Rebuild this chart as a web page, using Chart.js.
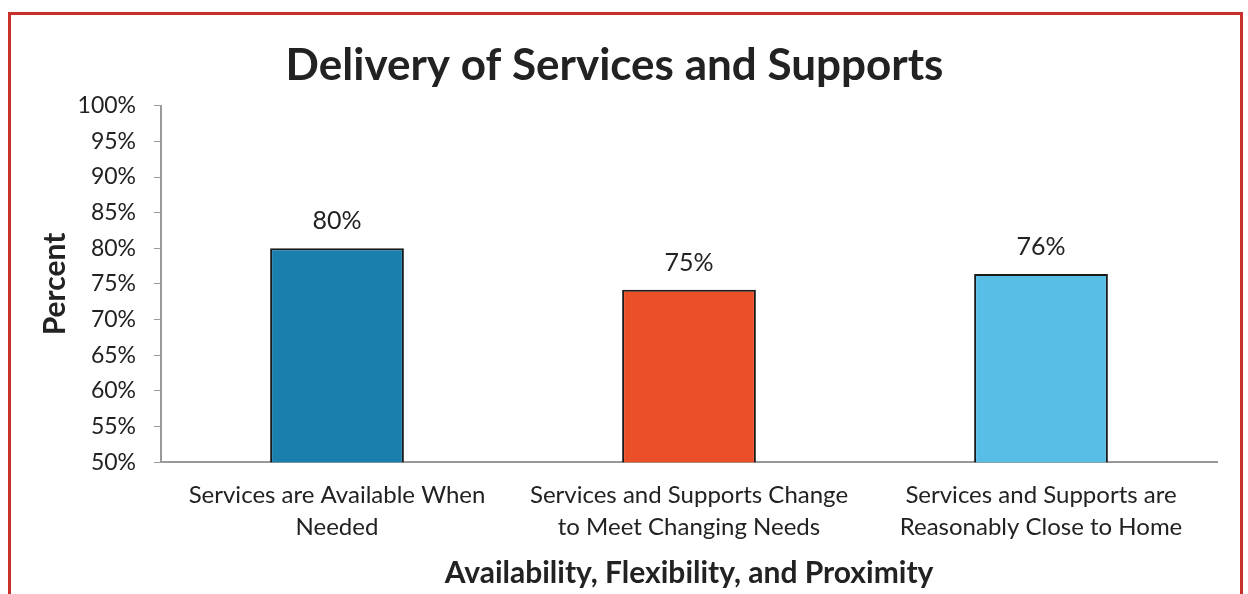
<!DOCTYPE html>
<html>
<head>
<meta charset="utf-8">
<script src="https://cdn.jsdelivr.net/npm/chart.js@4/dist/chart.umd.min.js"></script>
<style>
  html, body { margin: 0; padding: 0; background: #fff; }
  #wrap { position: relative; width: 1248px; height: 594px; }
  #frame { position: absolute; left: 8px; top: 12px; width: 1229px; height: 600px;
           border: 3px solid #c9302c; pointer-events: none; }
</style>
</head>
<body>
<div id="wrap">
  <canvas id="delivery_chart" width="1248" height="594"></canvas>
  <div id="frame"></div>
</div>
<script>
var categories = [
    ["Services are Available When", "Needed"],
    ["Services and Supports Change", "to Meet Changing Needs"],
    ["Services and Supports are", "Reasonably Close to Home"]
];
var percentValues = [80, 74.2, 76.4];
var valueLabels = ["80%", "75%", "76%"];
var barColors = ["#1b7fae", "#ea4f28", "#58bee6"];
var yTicks = [50, 55, 60, 65, 70, 75, 80, 85, 90, 95, 100];

var fontName = "Lato, 'Open Sans', sans-serif";

// writes the percent above each bar
var barLabels = {
    id: 'barLabels',
    afterDatasetsDraw: function (chart) {
        var ctx = chart.ctx;
        var meta = chart.getDatasetMeta(0);
        ctx.save();
        ctx.font = "25px " + fontName;
        ctx.fillStyle = "#222";
        ctx.textAlign = "center";
        ctx.textBaseline = "alphabetic";
        meta.data.forEach(function (bar, i) {
            ctx.fillText(valueLabels[i], bar.x, bar.y - 19);
        });
        ctx.restore();
    }
};

function renderDelivery() {
    var context = document.getElementById("delivery_chart").getContext('2d');

    var deliveryChart = new Chart(context, {
        type: 'bar',
        data: {
            labels: categories,
            datasets: [
                {
                    data: percentValues,
                    backgroundColor: barColors,
                    borderColor: "#1a1a1a",
                    borderWidth: 2,
                    borderSkipped: false,
                    barPercentage: 0.38,
                    categoryPercentage: 1
                }
            ]
        },
        options: {
            responsive: false,
            animation: false,
            layout: { padding: { left: 12, right: 31, top: 13, bottom: 3 } },
            plugins: {
                legend: { display: false },
                tooltip: { enabled: false },
                title: {
                    display: true,
                    text: "Delivery of Services and Supports",
                    color: "#222",
                    font: { family: fontName, size: 44, weight: 'bold' },
                    padding: { top: 26, bottom: 14 }
                }
            },
            scales: {
                x: {
                    grid: { display: false },
                    border: { display: true, color: "#999", width: 2 },
                    ticks: {
                        color: "#222",
                        font: { family: fontName, size: 24, lineHeight: 1.33 },
                        maxRotation: 0,
                        padding: 9
                    },
                    title: {
                        display: true,
                        text: "Availability, Flexibility, and Proximity",
                        color: "#222",
                        font: { family: fontName, size: 30, weight: 'bold' },
                        padding: { top: 3, bottom: 0 }
                    }
                },
                y: {
                    min: 50,
                    max: 100,
                    afterBuildTicks: function (axis) {
                        axis.ticks = yTicks.map(function (v) { return { value: v }; });
                    },
                    afterFit: function (axis) {
                        axis.width = 149;
                    },
                    grid: { drawOnChartArea: false, drawTicks: true, tickLength: 7, color: "#999" },
                    border: { display: true, color: "#999", width: 2 },
                    ticks: {
                        color: "#222",
                        font: { family: fontName, size: 23 },
                        padding: 18,
                        callback: function (v) { return v + "%"; }
                    },
                    title: {
                        display: true,
                        text: "Percent",
                        color: "#222",
                        font: { family: fontName, size: 30, weight: 'bold' },
                        padding: { top: 25, bottom: 0 }
                    }
                }
            }
        },
        plugins: [barLabels]
    });
}

renderDelivery();
</script>
</body>
</html>
